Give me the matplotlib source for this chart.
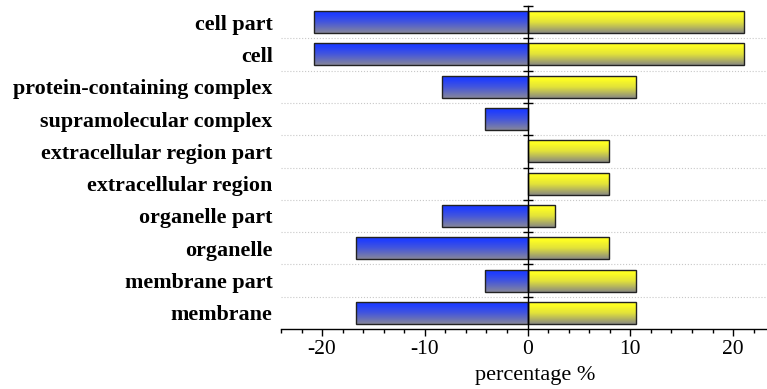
import numpy as np
import matplotlib
matplotlib.use('Agg')
import matplotlib.pyplot as plt
from matplotlib.colors import LinearSegmentedColormap

categories = ['membrane', 'membrane part', 'organelle', 'organelle part',
              'extracellular region', 'extracellular region part',
              'supramolecular complex', 'protein-containing complex',
              'cell', 'cell part']
down_values = [-16.67, -4.17, -16.67, -8.33, 0, 0, -4.17, -8.33, -20.83, -20.83]
up_values = [10.53, 10.53, 7.89, 2.63, 7.89, 7.89, 0, 10.53, 21.05, 21.05]
xticks = [-20, -10, 0, 10, 20]
xlabel = 'percentage %'

plt.rcParams['font.family'] = ['Liberation Serif', 'DejaVu Serif']

W, H = 767, 389
fig = plt.figure(figsize=(W / 100, H / 100), dpi=100)
ax = fig.add_axes([281 / W, 1 - 329 / H, (767 - 281) / W, (329 - 6) / H])

xmin, xmax = -24, 23.3
n = len(categories)
ypos = np.arange(n)

blue_cmap = LinearSegmentedColormap.from_list(
    'b', [(0, '#1e3cff'), (0.12, '#1e3cff'), (0.5, '#4456dc'), (1, '#86869a')])
yellow_cmap = LinearSegmentedColormap.from_list(
    'y', [(0, '#ffff22'), (0.12, '#ffff22'), (0.5, '#e2e23a'), (1, '#8a8a80')])
grad = np.linspace(0, 1, 64).reshape(-1, 1)

for vals, cmap in ((down_values, blue_cmap), (up_values, yellow_cmap)):
    bars = ax.barh(ypos, vals, height=0.68, facecolor='none', edgecolor='#222222',
                   linewidth=1.0, zorder=4)
    for b in bars:
        w = b.get_width()
        if w == 0:
            b.set_visible(False)
            continue
        x0 = b.get_x()
        y0 = b.get_y()
        h = b.get_height()
        im = ax.imshow(grad, cmap=cmap, aspect='auto', origin='upper',
                       extent=[min(x0, x0 + w), max(x0, x0 + w), y0, y0 + h],
                       zorder=3, interpolation='bilinear')
        im.set_clip_path(b)

ax.set_xlim(xmin, xmax)
ax.set_ylim(-0.5, n - 0.5)

for s in ('left', 'top', 'right'):
    ax.spines[s].set_visible(False)
ax.spines['bottom'].set_linewidth(1.0)

ax.set_yticks(ypos)
ax.set_yticklabels(categories, fontsize=15.8, fontweight='bold')
ax.tick_params(axis='y', which='major', length=0, pad=6)
ax.set_yticks(np.arange(n - 1) + 0.5, minor=True)
ax.tick_params(axis='y', which='minor', length=0)
ax.grid(which='minor', axis='y', linestyle=':', color='#c8c8c8', linewidth=0.8, zorder=0)
ax.set_axisbelow(True)

ax.set_xticks(xticks)
ax.set_xticklabels([str(t) for t in xticks], fontsize=15.5)
ax.set_xticks(np.arange(-24, 23, 2), minor=True)
ax.tick_params(axis='x', which='major', direction='out', length=5, width=1, pad=3)
ax.tick_params(axis='x', which='minor', direction='out', length=3, width=1)
ax.set_xlabel(xlabel, fontsize=16)
ax.xaxis.set_label_coords((535 - 281) / (767 - 281), -0.114)

# zero line with ticks at category boundaries
ax2 = ax.twinx()
ax2.set_ylim(-0.5, n - 0.5)
ax2.patch.set_visible(False)
for s in ('right', 'top', 'bottom'):
    ax2.spines[s].set_visible(False)
ax2.spines['left'].set_position(('data', 0))
ax2.spines['left'].set_linewidth(1.0)
ax2.spines['left'].set_zorder(6)
ax2.yaxis.set_ticks_position('left')
ax2.set_yticks(np.arange(n) + 0.5)
ax2.tick_params(axis='y', direction='inout', length=7, width=1, labelleft=False, labelright=False)
ax2.set_zorder(ax.get_zorder() + 1)

fig.savefig('out.png', dpi=100)
